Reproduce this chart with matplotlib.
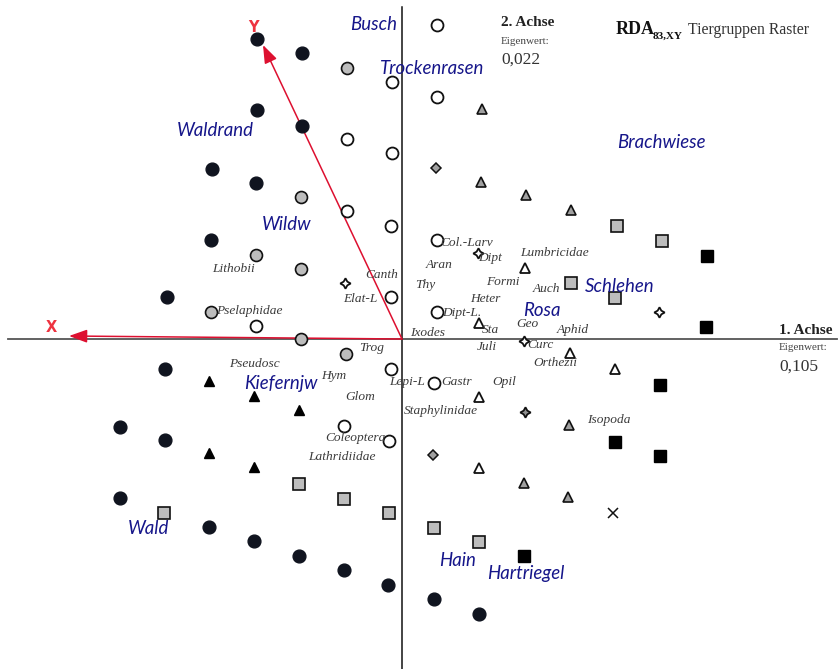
import matplotlib
matplotlib.use("Agg")
import matplotlib.pyplot as plt
import numpy as np

# ---------------------------------------------------------------
# RDA site scores (axis 1, axis 2), grouped by symbol class
# ---------------------------------------------------------------
black_circle_x = [-1.45, -1.00, -1.45, -1.00, -1.90, -1.46, -1.91, -2.35, -2.37, -2.82,
                  -2.37, -2.82, -1.93, -1.48, -1.03, -0.58, -0.14, 0.32, 0.77]
black_circle_y = [3.00, 2.86, 2.29, 2.13, 1.70, 1.56, 0.99, 0.42, -0.30, -0.88,
                  -1.01, -1.59, -1.88, -2.02, -2.17, -2.31, -2.46, -2.60, -2.75]

gray_circle_x = [-0.55, -1.01, -1.46, -1.01, -1.91, -1.01, -0.56]
gray_circle_y = [2.71, 1.42, 0.84, 0.70, 0.27, 0.00, -0.15]

white_circle_x = [0.35, -0.10, 0.35, -0.55, -0.10, -0.55, -0.11, 0.35, -0.11, 0.35,
                  -1.46, -0.11, 0.32, -0.58, -0.13]
white_circle_y = [3.14, 2.57, 2.42, 2.00, 1.86, 1.28, 1.13, 0.99, 0.42, 0.27,
                  0.13, -0.30, -0.44, -0.87, -1.02]

black_tri_x = [-1.93, -1.48, -1.03, -1.93, -1.48]
black_tri_y = [-0.42, -0.57, -0.71, -1.14, -1.28]

white_tri_x = [1.23, 0.77, 1.68, 2.13, 0.77, 0.77]
white_tri_y = [0.71, 0.16, -0.14, -0.30, -0.58, -1.29]

gray_tri_x = [0.80, 0.79, 1.24, 1.69, 1.67, 1.22, 1.66]
gray_tri_y = [2.30, 1.57, 1.44, 1.29, -0.86, -1.44, -1.58]

gray_square_x = [2.15, 2.60, 1.69, 2.13, -2.38, -1.03, -0.58, -0.13, 0.32, 0.77]
gray_square_y = [1.13, 0.98, 0.56, 0.41, -1.74, -1.45, -1.60, -1.74, -1.89, -2.03]

black_square_x = [3.05, 3.04, 2.58, 2.13, 2.58, 1.22]
black_square_y = [0.83, 0.12, -0.46, -1.03, -1.17, -2.17]

gray_diamond_x = [0.34, 0.31]
gray_diamond_y = [1.71, -1.16]

star_x = [-0.57, 0.76, 2.57, 1.22]
star_y = [0.56, 0.86, 0.27, -0.02]
gray_star_x = [1.23]
gray_star_y = [-0.73]

cross_x = [2.11]
cross_y = [-1.74]

# ---------------------------------------------------------------
# Habitat (site group) labels
# ---------------------------------------------------------------
habitats = ["Busch", "Trockenrasen", "Waldrand", "Wildw", "Brachwiese", "Schlehen",
            "Rosa", "Kiefernjw", "Wald", "Hain", "Hartriegel"]
habitat_x = [-0.28, 0.30, -1.87, -1.15, 2.59, 2.18, 1.40, -1.21, -2.53, 0.56, 1.24]
habitat_y = [3.14, 2.71, 2.08, 1.15, 1.96, 0.52, 0.29, -0.44, -1.89, -2.21, -2.35]

# ---------------------------------------------------------------
# Animal group (species) scores
# ---------------------------------------------------------------
species = ["Col.-Larv", "Dipt", "Lumbricidae", "Aran", "Canth", "Thy", "Formi", "Auch",
           "Elat-L", "Heter", "Lithobii", "Pselaphidae", "Dipt-L.", "Geo", "Sta", "Aphid",
           "Ixodes", "Trog", "Juli", "Curc", "Orthezii", "Pseudosc", "Hym", "Lepi-L",
           "Gastr", "Opil", "Glom", "Staphylinidae", "Isopoda", "Coleoptera",
           "Lathridiidae"]
species_x = [0.65, 0.88, 1.52, 0.37, -0.20, 0.23, 1.01, 1.44,
             -0.42, 0.83, -1.68, -1.53, 0.60, 1.25, 0.88, 1.71,
             0.26, -0.30, 0.85, 1.38, 1.53, -1.48, -0.68, 0.05,
             0.55, 1.02, -0.42, 0.39, 2.07, -0.47,
             -0.60]
species_y = [0.96, 0.81, 0.86, 0.74, 0.64, 0.54, 0.57, 0.50,
             0.40, 0.40, 0.70, 0.28, 0.26, 0.15, 0.09, 0.09,
             0.06, -0.09, -0.08, -0.06, -0.24, -0.25, -0.37, -0.43,
             -0.43, -0.43, -0.58, -0.72, -0.81, -0.99,
             -1.18]

# Environmental vectors
env_names = ["X", "Y"]
env_x = [-3.33, -1.39]
env_y = [0.03, 2.94]

# Eigenvalues of the first two axes
eig_axis1 = "0,105"
eig_axis2 = "0,022"

# ---------------------------------------------------------------
W, H = 839, 669
fig = plt.figure(figsize=(W / 100, H / 100), dpi=100)
ax = fig.add_axes([0, 0, 1, 1])
ax.set_xlim(-4.02, 4.37)
ax.set_ylim(-3.30, 3.39)
ax.axis("off")

def fpos(px, py):
    """Figure-fraction position from a pixel offset (top-left origin)."""
    return px / W, 1 - py / H

# axes through the origin
ax.plot([-3.94, 4.35], [0, 0], color="#555555", lw=1.3, zorder=1)
ax.plot([0, 0], [-3.32, 3.32], color="#111111", lw=1.1, zorder=1)

# environmental arrows
red = "#dd1030"
for name, vx, vy in zip(env_names, env_x, env_y):
    ax.annotate("", xy=(vx, vy), xytext=(0, 0),
                arrowprops=dict(arrowstyle="-|>,head_length=0.55,head_width=0.2",
                                color=red, lw=1.1, shrinkA=0, shrinkB=0,
                                mutation_scale=20), zorder=2)
ax.text(-3.51, 0.11, "X", color="#ee3340", fontsize=10.5, fontweight="bold",
        ha="center", va="center", family="DejaVu Sans")
ax.text(-1.49, 3.11, "Y", color="#ee3340", fontsize=10.5, fontweight="bold",
        ha="center", va="center", family="DejaVu Sans")

edge = "#111111"
ms = dict(linestyle="none", zorder=4)
ax.plot(black_circle_x, black_circle_y, "o", ms=9.2, mfc="#10141f", mec="#10141f", **ms)
ax.plot(gray_circle_x, gray_circle_y, "o", ms=8.6, mfc="#bdbdbd", mec=edge, mew=1.2, **ms)
ax.plot(white_circle_x, white_circle_y, "o", ms=8.6, mfc="white", mec=edge, mew=1.3, **ms)
ax.plot(black_tri_x, black_tri_y, "^", ms=7.6, mfc="black", mec="black", **ms)
ax.plot(white_tri_x, white_tri_y, "^", ms=7.0, mfc="white", mec=edge, mew=1.3, **ms)
ax.plot(gray_tri_x, gray_tri_y, "^", ms=7.2, mfc="#a0a0a0", mec=edge, mew=1.2, **ms)
ax.plot(gray_square_x, gray_square_y, "s", ms=8.4, mfc="#bdbdbd", mec=edge, mew=1.2, **ms)
ax.plot(black_square_x, black_square_y, "s", ms=9.0, mfc="black", mec="black", **ms)
ax.plot(gray_diamond_x, gray_diamond_y, "D", ms=5.0, mfc="#a0a0a0", mec=edge, mew=1.1, **ms)
ax.plot(star_x, star_y, marker=(4, 1, 0), ms=7.5, mfc="white", mec=edge, mew=1.3, **ms)
ax.plot(gray_star_x, gray_star_y, marker=(4, 1, 0), ms=7.5, mfc="#909090", mec=edge, mew=1.3, **ms)
ax.plot(cross_x, cross_y, "x", ms=7.5, mec=edge, mew=1.1, **ms)

# habitat names
for name, hx, hy in zip(habitats, habitat_x, habitat_y):
    ax.text(hx, hy, name, color="#16168a", fontsize=13.4, style="italic",
            family="Lato", ha="center", va="center", zorder=5)

# animal groups
for name, sx, sy in zip(species, species_x, species_y):
    ax.text(sx, sy, name, color="#3a3a3a", fontsize=9.6, style="italic",
            family="Liberation Serif", ha="center", va="center", zorder=5)

# axis captions and eigenvalues
txt = "#222222"
serif = "Liberation Serif"
fig.text(*fpos(501, 23), "2. Achse", fontsize=11, fontweight="bold", family=serif,
         color=txt, ha="left", va="center")
fig.text(*fpos(501, 42), "Eigenwert:", fontsize=8, family=serif, color="#444444",
         ha="left", va="center")
fig.text(*fpos(501, 60), eig_axis2, fontsize=12.5, family=serif, color="#333333",
         ha="left", va="center")

fig.text(*fpos(779, 331), "1. Achse", fontsize=11, fontweight="bold", family=serif,
         color=txt, ha="left", va="center")
fig.text(*fpos(779, 348), "Eigenwert:", fontsize=8, family=serif, color="#444444",
         ha="left", va="center")
fig.text(*fpos(779, 367), eig_axis1, fontsize=12.5, family=serif, color="#333333",
         ha="left", va="center")

# title
fig.text(*fpos(616, 30), "RDA", fontsize=13, fontweight="bold", family=serif,
         color="#111111", ha="left", va="center")
fig.text(*fpos(653, 36), "83,XY", fontsize=8, fontweight="bold", family=serif,
         color="#111111", ha="left", va="center")
fig.text(*fpos(688, 30), "Tiergruppen Raster", fontsize=11.3, family=serif,
         color="#333333", ha="left", va="center")

fig.savefig("out.png", dpi=100, facecolor="white")
